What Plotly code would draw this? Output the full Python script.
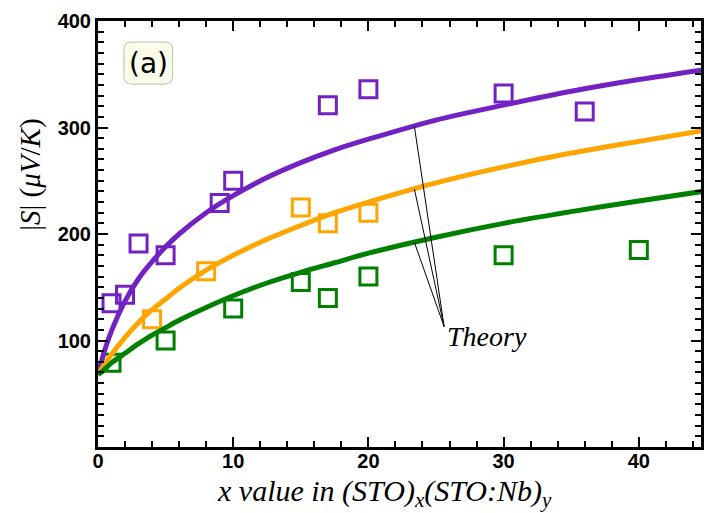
import numpy as np
import plotly.graph_objects as go

# Measured Seebeck coefficient |S| (uV/K) for three sample series
purple_x = [1, 2, 3, 5, 9, 10, 17, 20, 30, 36]
purple_y = [135, 143, 191, 180, 229, 250, 321, 336, 332, 315]

orange_x = [4, 8, 15, 17, 20]
orange_y = [120, 165, 225, 210, 220]

green_x = [1, 5, 10, 15, 17, 20, 30, 40]
green_y = [79, 100, 130, 155, 140, 160, 180, 185]

# Theory curves sampled along x
theory_x = [0, 0.5, 1, 2, 3, 4, 5, 6, 8, 10, 12.5, 15, 17.5, 20, 25, 30, 35, 40, 44.7]
theory_purple = [68, 91, 109, 137, 158, 174, 188, 200, 220, 236, 253, 267, 279, 289, 307, 321, 334, 345, 354]
theory_orange = [68, 78, 87, 103, 117, 129, 139, 149, 166, 180, 195, 208, 220, 230, 248, 263, 276, 287, 297]
theory_green = [68, 73, 79, 88, 97, 105, 112, 119, 131, 142, 154, 164, 173, 182, 197, 210, 221, 231, 240]

x_ticks = [0, 10, 20, 30, 40]
y_ticks = [0, 100, 200, 300, 400]
y_ticktext = ["", "100", "200", "300", "400"]

PURPLE = "#7222C2"
ORANGE = "#FFA500"
GREEN = "#008000"

fig = go.Figure()

# experimental points: open squares
for xs, ys, col in [(purple_x, purple_y, PURPLE),
                    (orange_x, orange_y, ORANGE),
                    (green_x, green_y, GREEN)]:
    fig.add_trace(go.Scatter(
        x=xs, y=ys, mode="markers",
        marker=dict(symbol="square-open", size=17, color=col,
                    line=dict(width=3, color=col)),
        showlegend=False, hoverinfo="skip"))

# theory curves
for ys, col in [(theory_purple, PURPLE), (theory_orange, ORANGE), (theory_green, GREEN)]:
    fig.add_trace(go.Scatter(
        x=theory_x, y=ys, mode="lines",
        line=dict(color=col, width=5, shape="spline", smoothing=0.8),
        showlegend=False, hoverinfo="skip"))

# leader lines from the "Theory" label to each curve
label_pt = (25.6, 113)
touch_x = 23.4
lx, ly = [], []
for ys in (theory_purple, theory_orange, theory_green):
    lx += [label_pt[0], touch_x, None]
    ly += [label_pt[1], float(np.interp(touch_x, theory_x, ys)), None]
fig.add_trace(go.Scatter(x=lx, y=ly, mode="lines",
                         line=dict(color="black", width=1),
                         showlegend=False, hoverinfo="skip"))

fig.add_annotation(x=25.7, y=104, xref="x", yref="y", text="<i>Theory</i>",
                   showarrow=False, xanchor="left", yanchor="middle",
                   font=dict(family="Liberation Serif", size=28, color="black"))

# panel label in a rounded box
def rounded_rect(x0, y0, x1, y1, rx, ry):
    return (f"M {x0+rx} {y0} L {x1-rx} {y0} Q {x1} {y0} {x1} {y0+ry} "
            f"L {x1} {y1-ry} Q {x1} {y1} {x1-rx} {y1} "
            f"L {x0+rx} {y1} Q {x0} {y1} {x0} {y1-ry} "
            f"L {x0} {y0+ry} Q {x0} {y0} {x0+rx} {y0} Z")

fig.add_shape(type="path", xref="paper", yref="paper",
              path=rounded_rect(0.0429, 0.852, 0.1238, 0.9507, 0.013, 0.019),
              fillcolor="#FBFBEA", line=dict(color="#BDBDB0", width=1), layer="above")
fig.add_annotation(x=0.0833, y=0.901, xref="paper", yref="paper", text="(a)",
                   showarrow=False, xanchor="center", yanchor="middle",
                   font=dict(family="DejaVu Sans", size=28, color="black"))

# axis titles
fig.add_annotation(x=-0.112, y=0.64, xref="paper", yref="paper",
                   text="|<i>S</i>| (<i>μV</i>/<i>K</i>)", textangle=-90,
                   showarrow=False, xanchor="center", yanchor="middle",
                   font=dict(family="Liberation Serif", size=29, color="black"))
fig.add_annotation(x=0.475, y=-0.107, xref="paper", yref="paper",
                   text="<i>x value in (STO)<sub>x</sub>(STO:Nb)<sub>y</sub></i>",
                   showarrow=False, xanchor="center", yanchor="middle",
                   font=dict(family="Liberation Serif", size=30, color="black"))

tickfont = dict(family="Liberation Sans", size=20, color="black", weight="bold")
fig.update_xaxes(range=[0, 44.6], tickmode="array", tickvals=x_ticks,
                 showline=True, linewidth=3, linecolor="black", mirror="allticks",
                 ticks="inside", ticklen=10, tickwidth=2, tickcolor="black",
                 ticklabelstandoff=-6,
                 minor=dict(tickmode="linear", tick0=0, dtick=2, ticks="inside",
                            ticklen=6, tickwidth=2, tickcolor="black"),
                 showgrid=False, zeroline=False, tickfont=tickfont)
fig.update_yaxes(range=[0, 400], tickmode="array", tickvals=y_ticks, ticktext=y_ticktext,
                 showline=True, linewidth=3, linecolor="black", mirror="allticks",
                 ticks="inside", ticklen=10, tickwidth=2, tickcolor="black",
                 minor=dict(tickmode="linear", tick0=0, dtick=10, ticks="inside",
                            ticklen=6, tickwidth=2, tickcolor="black"),
                 showgrid=False, zeroline=False, tickfont=tickfont)

fig.update_layout(width=709, height=513, margin=dict(l=98, r=5, t=21, b=66),
                  plot_bgcolor="white", paper_bgcolor="white", showlegend=False)

fig.write_html("out.html")
